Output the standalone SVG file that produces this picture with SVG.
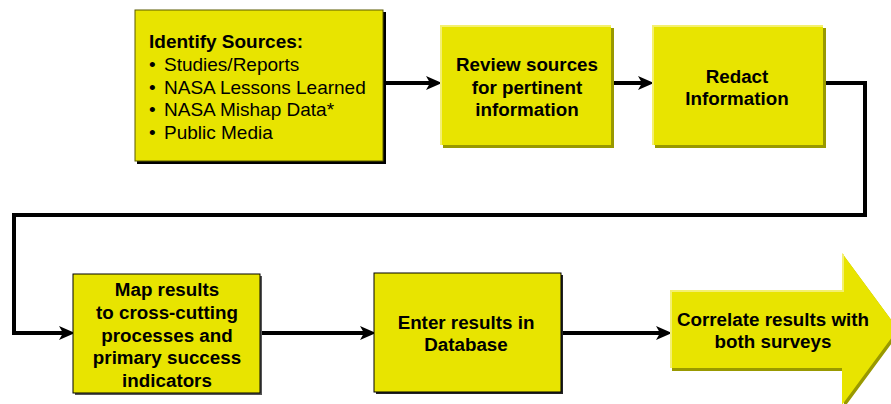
<svg xmlns="http://www.w3.org/2000/svg" width="891" height="404" viewBox="0 0 891 404">
<style>
.box{fill:#E8E400}
.t{font-family:"Liberation Sans",Arial,sans-serif;font-weight:bold;font-size:18.8px;fill:#000;text-anchor:middle}
.tl{font-family:"Liberation Sans",Arial,sans-serif;font-size:19px;fill:#000}
.c{fill:none;stroke:#000;stroke-width:4;stroke-linejoin:miter}
.sh{fill:#999900}
.hl{fill:none;stroke:#F4F070;stroke-width:2}
</style>
<defs>
<marker id="ah" markerUnits="userSpaceOnUse" markerWidth="16" markerHeight="15" viewBox="0 0 16 15" refX="7" refY="7.5" orient="auto">
<path d="M0,0.5 L16,7.5 L0,14.5 L4,7.5 z" fill="#000"/>
</marker>
</defs>
<rect width="891" height="404" fill="#fff"/>
<g id="connectors">
<path class="c" d="M385,83 H433" marker-end="url(#ah)"/>
<path class="c" d="M613,83 H645" marker-end="url(#ah)"/>
<path class="c" d="M825,83 H865 V215 H14 V333 H66" marker-end="url(#ah)"/>
<path class="c" d="M261,333 H367" marker-end="url(#ah)"/>
<path class="c" d="M562,333 H663" marker-end="url(#ah)"/>
</g>
<g id="identify">
<rect x="137" y="12" width="249" height="152" fill="#000"/>
<rect class="box" x="135" y="10" width="248" height="151" stroke="#5a5a00" stroke-width="1"/>
<text class="tl" x="149" y="48" font-weight="bold">Identify Sources:</text>
<text class="tl" x="149" y="71">•</text><text class="tl" x="164" y="71">Studies/Reports</text>
<text class="tl" x="149" y="93.5">•</text><text class="tl" x="164" y="93.5">NASA Lessons Learned</text>
<text class="tl" x="149" y="116">•</text><text class="tl" x="164" y="116">NASA Mishap Data*</text>
<text class="tl" x="149" y="139">•</text><text class="tl" x="164" y="139">Public Media</text>
</g>
<g id="review">
<rect class="sh" x="443" y="28" width="171" height="120"/>
<rect class="box" x="440" y="25" width="171" height="120"/>
<path class="hl" d="M441,145 V26 H611"/>
<text class="t" x="527" y="71">Review sources</text>
<text class="t" x="527" y="93.5">for pertinent</text>
<text class="t" x="527" y="116">information</text>
</g>
<g id="redact">
<rect class="sh" x="655" y="28" width="171" height="120"/>
<rect class="box" x="652" y="25" width="171" height="120"/>
<path class="hl" d="M653,145 V26 H823"/>
<text class="t" x="737" y="83">Redact</text>
<text class="t" x="737" y="105">Information</text>
</g>
<g id="map">
<rect x="75" y="276" width="187" height="119" fill="#555"/>
<rect class="box" x="73" y="274" width="187" height="119" stroke="#000" stroke-width="1"/>
<text class="t" x="167" y="296">Map results</text>
<text class="t" x="167" y="319">to cross-cutting</text>
<text class="t" x="167" y="341.5">processes and</text>
<text class="t" x="167" y="364">primary success</text>
<text class="t" x="167" y="387">indicators</text>
</g>
<g id="enter">
<rect x="376" y="275" width="187" height="119" fill="#222"/>
<rect class="box" x="374" y="273" width="187" height="119" stroke="#000" stroke-width="1"/>
<text class="t" x="466" y="329">Enter results in</text>
<text class="t" x="466" y="351">Database</text>
</g>
<g id="correlate">
<polygon class="sh" points="672,293 844,293 844,256 900,332 844,408 844,371 672,371"/>
<polygon class="box" points="670,290 842,290 842,253 898,329 842,405 842,368 670,368"/>
<path class="hl" d="M671,368 V291 H843 V254"/>
<text class="t" x="773" y="326">Correlate results with</text>
<text class="t" x="773" y="348">both surveys</text>
</g>
</svg>
